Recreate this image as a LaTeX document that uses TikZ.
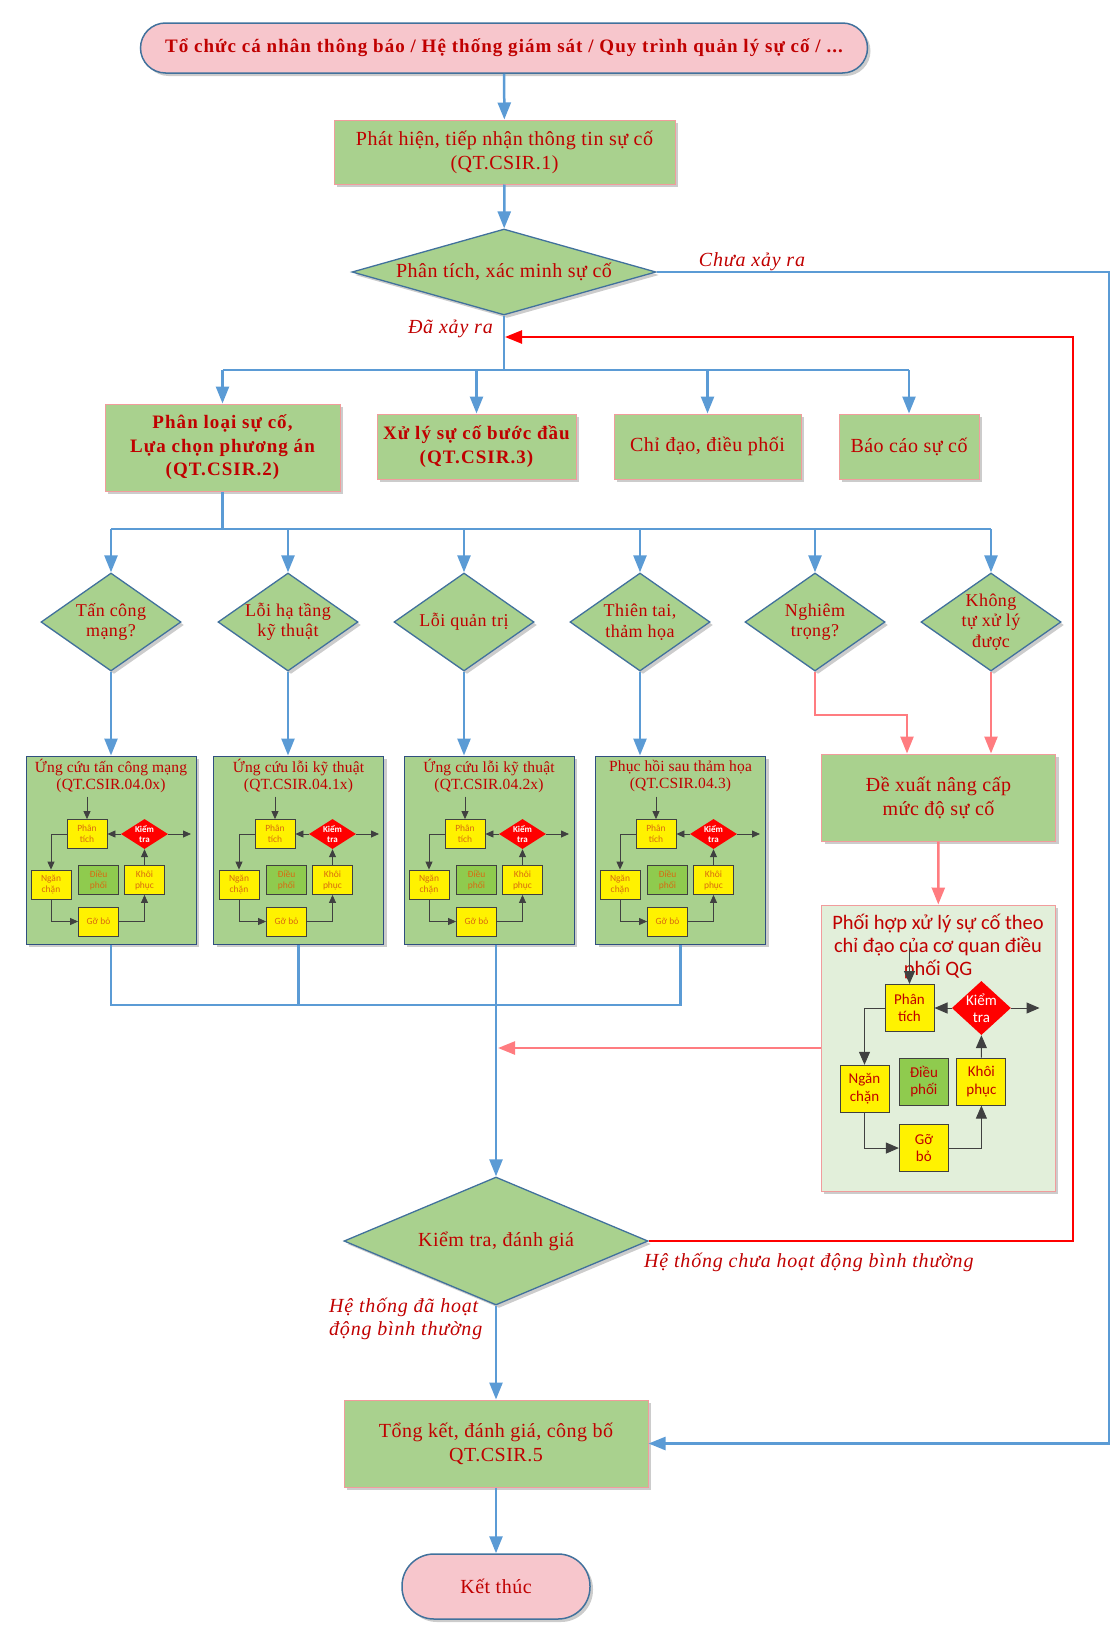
\documentclass[tikz,border=0pt]{standalone}
\usepackage{fontspec}
\setmainfont{Liberation Serif}[LetterSpace=2.5]
\newfontfamily\carl{Carlito}
\usetikzlibrary{shapes.geometric,arrows.meta,shadows,calc}
\definecolor{tred}{HTML}{C00000}
\definecolor{gfill}{HTML}{A9D18E}
\definecolor{gbord}{HTML}{F19C9C}
\definecolor{dblue}{HTML}{41719C}
\definecolor{sblue}{HTML}{2F4F7F}
\definecolor{cblue}{HTML}{5B9BD5}
\definecolor{pinkt}{HTML}{F7C6CC}
\definecolor{pinkl}{HTML}{FF7C80}
\definecolor{lgreen}{HTML}{E2EFDA}
\definecolor{mgreen}{HTML}{8FCB4E}
\definecolor{otext}{HTML}{D86A10}
\newcommand\miniflow[7]{%
\begin{scope}[shift={(#2,#3)},xscale=#5,yscale=#6]
\node[yb#4] (#1pt) at (0,0) {Phân\\tích};
\node[rd#4] (#1kt) at (57.5,0) {};
\node[kt#4] (#1ktt) at (#1kt) {Kiểm\\tra};
\node[yb#4] (#1nc) at (-36,50.5) {Ngăn\\chặn};
\node[gb#4] (#1dp) at (11.5,46) {Điều\\phối};
\node[yb#4] (#1kp) at (57.5,46) {Khôi\\phục};
\node[yb#4] (#1gb) at (11.5,87.5) {#7};
\coordinate (#1in) at (0,-37.5);
\coordinate (#1out) at (104,0);
\draw[ma#4] (#1in) -- (#1pt);
\draw[ma#4] (#1kt) -- (#1pt);
\draw[ma#4] (#1kt) -- (#1out);
\draw[ma#4] (#1pt.west) -| (#1nc.north);
\draw[ma#4] (#1nc.south) |- (#1gb.west);
\draw[ma#4] (#1gb.east) -| (#1kp.south);
\draw[ma#4] (#1kp) -- (#1kt);
\end{scope}}
\begin{document}
\begin{tikzpicture}[x=1pt,y=-1pt,
  every node/.style={inner sep=0pt,text=tred},
  shad/.style={drop shadow={shadow xshift=3pt,shadow yshift=-3pt,opacity=0.2,fill=black}},
  term/.style={draw=dblue,line width=1.5pt,fill=pinkt,shad},
  gbox/.style={draw=gbord,line width=1pt,fill=gfill,align=center,shad},
  gdia/.style={diamond,draw=dblue,line width=1.3pt,fill=gfill,shad},
  sbox/.style={draw=sblue,line width=1pt,fill=gfill,shad},
  f20/.style={font=\fontsize{20}{24}\selectfont,align=center},
  f20b/.style={font=\bfseries\fontsize{19}{23.5}\selectfont\addfontfeature{LetterSpace=5.5},align=center},
  f18/.style={font=\fontsize{18}{20.5}\selectfont,align=center},
  f16/.style={font=\fontsize{15.5}{16.5}\selectfont\addfontfeature{LetterSpace=1},align=center},
  lab/.style={font=\itshape\fontsize{20}{23}\selectfont\addfontfeature{LetterSpace=4},text=tred},
  bline/.style={draw=cblue,line width=2.5pt},
  barr/.style={draw=cblue,line width=2.5pt,-{Triangle[width=13pt,length=17pt]}},
  rarr/.style={draw=red,line width=2.5pt,-{Triangle[width=13pt,length=17pt]}},
  parr/.style={draw=pinkl,line width=2.5pt,-{Triangle[width=13pt,length=17pt]}},
  ybs/.style={draw=black!75,line width=0.8pt,fill=yellow,minimum width=40pt,minimum height=29pt,align=center,text=otext,font=\carl\fontsize{9.5}{11}\selectfont},
  gbs/.style={ybs,fill=mgreen},
  rds/.style={diamond,fill=red,minimum width=47pt,minimum height=30pt},
  kts/.style={text=white,font=\carl\bfseries\fontsize{9}{10.5}\selectfont,align=center},
  mas/.style={draw=black!75,line width=0.8pt,-{Triangle[width=7pt,length=8pt]}},
  ybb/.style={draw=black!75,line width=1pt,fill=yellow,minimum width=49pt,minimum height=47pt,align=center,text=tred,font=\carl\fontsize{15}{17.5}\selectfont},
  gbb/.style={ybb,fill=mgreen},
  rdb/.style={diamond,fill=red,minimum width=59pt,minimum height=54pt},
  ktb/.style={text=white,font=\carl\fontsize{15}{17.5}\selectfont,align=center},
  mab/.style={draw=black!75,line width=1pt,-{Triangle[width=11pt,length=13pt]}}
]
\useasboundingbox (0,0) rectangle (1118,1633);
% main flow
\node[term,rounded corners=25pt,f20b,minimum width=727pt,minimum height=50pt] (top) at (504,48) {Tổ chức cá nhân thông báo / Hệ thống giám sát / Quy trình quản lý sự cố / ...};
\node[gbox,f20,minimum width=341pt,minimum height=64pt] (det) at (504.5,152) {Phát hiện, tiếp nhận thông tin sự cố\\(QT.CSIR.1)};
\node[gdia,minimum width=304pt,minimum height=86pt] (d1) at (504,272) {};
\node[f20] (d1t) at (d1) {Phân tích, xác minh sự cố};
\node[gbox,f20b,minimum width=235pt,minimum height=87pt] (cls) at (222.5,447.5) {Phân loại sự cố,\\Lựa chọn phương án\\(QT.CSIR.2)};
\node[gbox,f20b,minimum width=199pt,minimum height=65pt] (ini) at (476.5,446.5) {Xử lý sự cố bước đầu\\(QT.CSIR.3)};
\node[gbox,f20,minimum width=187pt,minimum height=65pt] (dir) at (707.5,446.5) {Chỉ đạo, điều phối};
\node[gbox,f20,minimum width=140pt,minimum height=65pt] (rep) at (909,446.5) {Báo cáo sự cố};
% category diamonds
\foreach \n/\x/\t in {q1/111/{Tấn công\\mạng?},q2/288/{Lỗi hạ tầng\\kỹ thuật},q3/464/{Lỗi quản trị},q4/640/{Thiên tai,\\thảm họa},q5/815/{Nghiêm\\trọng?},q6/991/{Không\\tự xử lý\\được}}{
  \node[gdia,minimum width=140pt,minimum height=98pt] (\n) at (\x,622) {};
  \node[f18] (\n t) at (\n) {\t};
}
% sub boxes
\foreach \n/\x/\ta/\tb in {sb1/111/{Ứng cứu tấn công mạng}/{(QT.CSIR.04.0x)},sb2/298.5/{Ứng cứu lỗi kỹ thuật}/{(QT.CSIR.04.1x)},sb3/489/{Ứng cứu lỗi kỹ thuật}/{(QT.CSIR.04.2x)},sb4/680.5/{Phục hồi sau thảm họa}/{(QT.CSIR.04.3)}}{
  \node[sbox,minimum width=170pt,minimum height=188pt] (\n) at (\x,850) {};
  \node[f16] (\n t) at (\x,776) {\ta\\\tb};
}
\miniflow{ma}{87}{834}{s}{1}{1}{Gỡ bỏ}
\miniflow{mb}{275}{834}{s}{1}{1}{Gỡ bỏ}
\miniflow{mc}{465}{834}{s}{1}{1}{Gỡ bỏ}
\miniflow{md}{656}{834}{s}{1}{1}{Gỡ bỏ}
% right side
\node[gbox,f20,minimum width=234pt,minimum height=87pt] (pro) at (938.5,797.5) {Đề xuất nâng cấp\\mức độ sự cố};
\node[draw=gbord,line width=1pt,fill=lgreen,shad,minimum width=234pt,minimum height=286pt] (coord) at (938,1048) {};
\node[font=\carl\fontsize{20.5}{23}\selectfont,align=center] (coordt) at (938,946) {Phối hợp xử lý sự cố theo\\chỉ đạo của cơ quan điều\\phối QG};
\miniflow{me}{909.5}{1008}{b}{1.25}{1.6}{Gỡ\\bỏ}
% bottom
\node[gdia,minimum width=304pt,minimum height=128pt] (kt) at (496,1241) {};
\node[f20] (ktt) at (kt) {Kiểm tra, đánh giá};
\node[gbox,f20,minimum width=304pt,minimum height=87pt] (sum) at (496,1443.5) {Tổng kết, đánh giá, công bố\\QT.CSIR.5};
\node[term,rounded corners=32pt,f20,minimum width=188pt,minimum height=65pt] (end) at (496,1586.5) {Kết thúc};
% labels
\node[lab] (l1) at (752,262) {Chưa xảy ra};
\node[lab,anchor=east] (l2) at (493,329) {Đã xảy ra};
\node[lab,anchor=west] (l3) at (644,1262) {Hệ thống chưa hoạt động bình thường};
\node[lab,anchor=west,align=left] (l4) at (329,1319) {Hệ thống đã hoạt\\động bình thường};
% connectors
\coordinate (c2) at (1109,1443.5);
\coordinate (j1) at (504,370);
\coordinate (j2) at (222.5,529);
\coordinate (j3) at (496,1005);
\coordinate (r1) at (1073,1241);
\coordinate (r2) at (1073,337);
\coordinate (r3) at (505,337);
\coordinate (p1) at (815,715);
\coordinate (p2) at (907,715);
\coordinate (m1) at (498,1048);
\draw[barr] (top) -- (det);
\draw[barr] (det) -- (d1);
\draw[barr] (d1.east) -| (c2) -- (sum.east);
\draw[bline] (d1.south) -- (j1);
\draw[bline] (cls.north |- j1) -- (rep.north |- j1);
\foreach \b in {cls,ini,dir,rep} \draw[barr] (\b.north |- j1) -- (\b.north);
\draw[bline] (cls.south) -- (j2);
\draw[bline] (q1.north |- j2) -- (q6.north |- j2);
\foreach \q in {q1,q2,q3,q4,q5,q6} \draw[barr] (\q.north |- j2) -- (\q.north);
\draw[barr] (q1.south) -- (q1.south |- sb1.north);
\draw[barr] (q2.south) -- (q2.south |- sb2.north);
\draw[barr] (q3.south) -- (q3.south |- sb3.north);
\draw[barr] (q4.south) -- (q4.south |- sb4.north);
\draw[parr] (q5.south) -- (p1) -- (p2) -- (p2 |- pro.north);
\draw[parr] (q6.south) -- (q6.south |- pro.north);
\draw[parr] (pro) -- (coord);
\draw[parr] (coord.west) -- (m1);
\draw[bline] (sb1.south) -- (sb1.south |- j3) -- (sb4.south |- j3) -- (sb4.south);
\draw[bline] (sb2.south) -- (sb2.south |- j3);
\draw[barr] (sb3.south -| kt.north) -- (kt.north);
\draw[rarr] (kt.east) -- (r1) -- (r2) -- (r3);
\draw[barr] (kt.south) -- (sum.north);
\draw[barr] (sum.south) -- (end.north);
\end{tikzpicture}
\end{document}
